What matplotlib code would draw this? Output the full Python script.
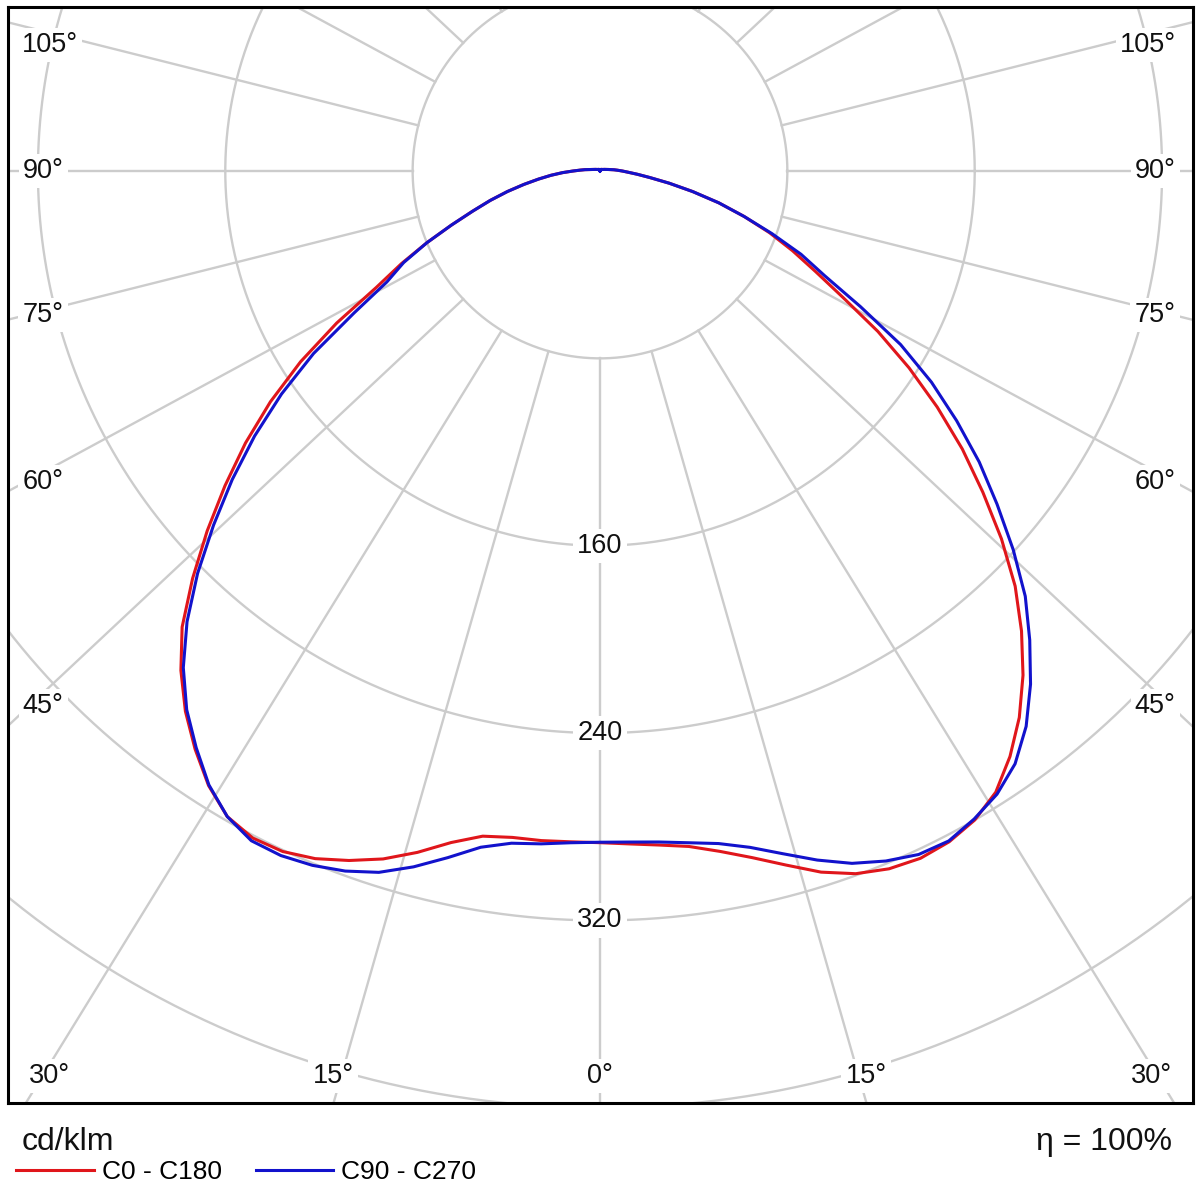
import numpy as np
import matplotlib
matplotlib.use("Agg")
import matplotlib.pyplot as plt

# ---------------- data (cd/klm), gamma measured from nadir ----------------
gamma = [0, 2.5, 5, 7.5, 10, 12.5, 15, 17.5, 20, 22.5, 25, 27.5, 30, 32.5, 35,
         37.5, 40, 42.5, 45, 47.5, 50, 52.5, 55, 57.5, 60, 62.5, 65, 67.5, 70,
         72.5, 75, 77.5, 80, 82.5, 85, 87.5, 90,
         92.5, 95, 100, 110, 120, 150, 180]
c0 = [286.8, 287.6, 288.9, 290.9, 295.0, 300.3, 306.8, 313.9, 319.3, 322.5,
      323.8, 322.9, 320.0, 314.5, 305.2, 294.1, 281.0, 266.4, 250.7, 232.5,
      213.4, 195.0, 175.8,
      156.5, 137.0, 117.0, 101.5, 89.0, 77.0, 64.5, 52.5, 40.5, 30.0, 21.5,
      16.0, 12.0, 9.5,
      7.5, 6.0, 3.7, 2.0, 1.3, 0.8, 0.0]
c180 = [286.8, 286.7, 287.0, 287.0, 288.4, 293.7, 301.2, 308.0, 313.3, 317.8,
        320.6, 321.1, 318.3, 311.1, 301.4, 290.8, 278.4, 264.1, 246.0, 227.5,
        209.0, 190.8, 171.8,
        151.6, 129.8, 107.7, 93.5, 80.0, 67.5, 57.0, 48.5, 40.5, 33.0, 26.5,
        21.0, 16.0, 11.5,
        8.5, 6.5, 3.7, 2.0, 1.3, 0.8, 0.0]
c90 = [286.6, 286.8, 287.6, 289.3, 291.6, 295.8, 301.8, 308.5, 314.6, 318.9,
       322.0, 322.5, 319.5, 315.5, 309.0, 298.9, 286.0, 271.6, 256.8, 239.3,
       221.3, 204.1, 185.9,
       167.8, 148.2, 125.3, 105.9, 92.9, 78.1, 64.5, 52.5, 40.5, 30.0, 21.5,
       16.0, 12.0, 9.5,
       7.5, 6.0, 3.7, 2.0, 1.3, 0.8, 0.0]
c270 = [286.6, 287.1, 288.4, 289.5, 293.2, 300.3, 307.6, 314.0, 318.1, 320.9,
        322.5, 322.4, 318.3, 310.8, 300.6, 289.9, 276.8, 261.0, 243.0, 223.8,
        205.0, 185.9, 166.0,
        145.0, 121.3, 102.6, 92.5, 80.0, 67.5, 57.0, 48.5, 40.5, 33.0, 26.5,
        21.0, 16.0, 11.5,
        8.5, 6.5, 3.7, 2.0, 1.3, 0.8, 0.0]

ring_values = [80, 160, 240, 320, 400]
ring_labels = ["160", "240", "320"]
spoke_angles = list(range(0, 360, 15))
side_angle_labels = ["105°", "90°", "75°", "60°", "45°"]
bottom_angle_labels = ["30°", "15°", "0°", "15°", "30°"]
legend_labels = ["C0 - C180", "C90 - C270"]
unit_label = "cd/klm"
eta_label = "η = 100%"

for arr in (c0, c180, c90, c270):
    assert len(arr) == len(gamma)

# ---------------- styling / layout ----------------
plt.rcParams["font.family"] = ["Liberation Sans", "DejaVu Sans"]
W = H = 1200
S = 2.342            # pixels per cd/klm
CX, CY = 600, 171    # pole position in pixels
FL, FR, FT, FB = 8, 1193, 7, 1103
GRID = "#cccccc"
RED = "#e0161b"
BLUE = "#1212cc"
K = 1.067            # horizontal stretch of the spokes in the original

fig = plt.figure(figsize=(12, 12), dpi=100)
ax = fig.add_axes([FL / W, 1 - FB / H, (FR - FL) / W, (FB - FT) / H])
ax.set_xlim((FL - CX) / S, (FR - CX) / S)
ax.set_ylim(-(FB - CY) / S, (CY - FT) / S)
ax.set_xticks([])
ax.set_yticks([])
for sp in ax.spines.values():
    sp.set_linewidth(2.2)
    sp.set_color("black")
    sp.set_zorder(10)


def P(px, py):
    return (px - CX) / S, (CY - py) / S


# rings
t = np.linspace(0, 2 * np.pi, 721)
for r in ring_values:
    ax.plot(r * np.cos(t), r * np.sin(t), color=GRID, lw=1.7, zorder=1)

# spokes (start on the innermost ring)
for a in spoke_angles:
    ar = np.radians(a)
    d = np.array([K * np.sin(ar), -np.cos(ar)])
    d /= np.hypot(*d)
    r0, r1 = ring_values[0], 1000
    ax.plot([r0 * d[0], r1 * d[0]], [r0 * d[1], r1 * d[1]],
            color=GRID, lw=1.7, zorder=1)

box = dict(facecolor="white", edgecolor="none", pad=3)
tkw = dict(fontsize=19.5, color="#111111", ha="center", va="center",
           zorder=3, bbox=box)

# ring value labels
for lab in ring_labels:
    r = float(lab)
    ax.text(0, -r, lab, **tkw)

# side angle labels
side_y = [45, 171, 315, 482, 706]
for lab, py in zip(side_angle_labels, side_y):
    if lab == "105°":
        xl, xr = 50, 1148
    else:
        xl, xr = 43, 1155
    ax.text(*P(xl, py), lab, **tkw)
    ax.text(*P(xr, py), lab, **tkw)

# bottom angle labels
bottom_x = [49, 333, 600, 866, 1151]
for lab, px in zip(bottom_angle_labels, bottom_x):
    ax.text(*P(px, 1076), lab, **tkw)


# curves: one closed line per C-plane pair
def plane_xy(left, right):
    g = np.radians(gamma)
    left = np.asarray(left, float)
    right = np.asarray(right, float)
    xl, yl = -left * np.sin(g), -left * np.cos(g)
    xr, yr = right * np.sin(g), -right * np.cos(g)
    return (np.concatenate([xl[::-1], xr[1:]]),
            np.concatenate([yl[::-1], yr[1:]]))


x, y = plane_xy(c180, c0)
l1, = ax.plot(x, y, color=RED, lw=2.2, zorder=4, label=legend_labels[0],
              solid_joinstyle="round")
x, y = plane_xy(c270, c90)
l2, = ax.plot(x, y, color=BLUE, lw=2.2, zorder=5, label=legend_labels[1],
              solid_joinstyle="round")

# footer
fig.text(22 / W, 1 - 1150 / H, unit_label, fontsize=23, ha="left",
         va="baseline", color="#111111")
fig.text(1172 / W, 1 - 1150 / H, eta_label, fontsize=23, ha="right",
         va="baseline", color="#111111")
fig.legend(handles=[l1, l2], labels=legend_labels, loc="center left",
           bbox_to_anchor=(16 / W, 1 - 1172 / H), ncol=2, frameon=False,
           fontsize=19, handlelength=2.95, handletextpad=0.3,
           columnspacing=1.28, borderaxespad=0, borderpad=0)

fig.savefig("out.png", dpi=100, facecolor="white")
